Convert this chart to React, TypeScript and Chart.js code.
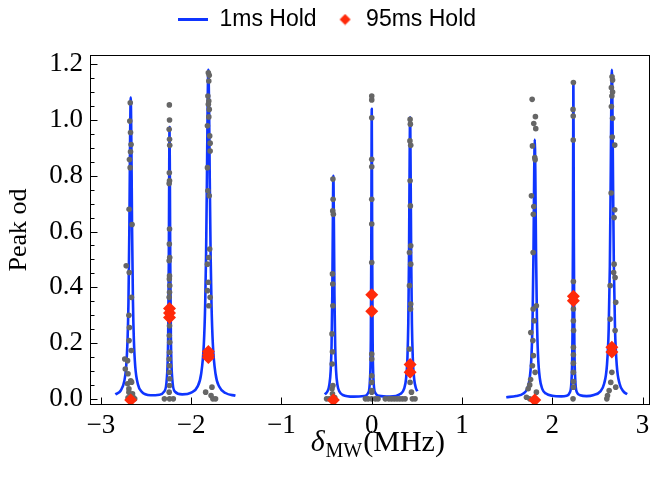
import React, { useEffect, useRef } from 'react';
import { Chart, registerables } from 'chart.js';

Chart.register(...registerables);

// ---- axis ticks ----
const X_TICKS = [-3, -2, -1, 0, 1, 2, 3];
const Y_TICKS = [0, 0.2, 0.4, 0.6, 0.8, 1.0, 1.2];

// ---- 1ms Hold fit curves ----
const FIT_LEFT_X = [-2.84, -2.78, -2.74, -2.72, -2.705, -2.695, -2.685, -2.678, -2.67, -2.662, -2.655, -2.645, -2.635, -2.62, -2.59, -2.55, -2.45, -2.35, -2.3, -2.27, -2.255, -2.248, -2.244, -2.24, -2.236, -2.232, -2.225, -2.21, -2.18, -2.1, -2.0, -1.93, -1.89, -1.86, -1.845, -1.835, -1.825, -1.818, -1.81, -1.802, -1.795, -1.785, -1.775, -1.76, -1.73, -1.69, -1.62, -1.51];
const FIT_LEFT_Y = [0.016, 0.030, 0.065, 0.117, 0.211, 0.346, 0.612, 0.889, 1.08, 0.889, 0.612, 0.346, 0.211, 0.117, 0.052, 0.026, 0.013, 0.015, 0.026, 0.073, 0.223, 0.494, 0.785, 0.975, 0.785, 0.494, 0.223, 0.073, 0.026, 0.016, 0.022, 0.044, 0.089, 0.196, 0.339, 0.52, 0.81, 1.047, 1.18, 1.047, 0.81, 0.52, 0.339, 0.196, 0.089, 0.044, 0.021, 0.011];

const FIT_MID_X = [-0.52, -0.49, -0.47, -0.455, -0.445, -0.437, -0.431, -0.425, -0.419, -0.413, -0.405, -0.395, -0.38, -0.36, -0.32, -0.2, -0.08, -0.04, -0.02, -0.01, -0.005, -0.0025, 0, 0.0025, 0.005, 0.01, 0.02, 0.04, 0.08, 0.2, 0.32, 0.36, 0.38, 0.395, 0.405, 0.413, 0.419, 0.425, 0.431, 0.437, 0.445, 0.455, 0.47, 0.49, 0.505];
const FIT_MID_Y = [0.016, 0.027, 0.050, 0.100, 0.191, 0.370, 0.622, 0.80, 0.622, 0.370, 0.191, 0.100, 0.050, 0.027, 0.014, 0.008, 0.010, 0.021, 0.066, 0.213, 0.525, 0.837, 1.04, 0.837, 0.525, 0.213, 0.066, 0.021, 0.011, 0.008, 0.018, 0.038, 0.072, 0.144, 0.272, 0.51, 0.813, 1.01, 0.813, 0.51, 0.272, 0.144, 0.072, 0.038, 0.027];

const FIT_RIGHT_X = [1.49, 1.6, 1.68, 1.72, 1.75, 1.77, 1.782, 1.792, 1.8, 1.806, 1.812, 1.82, 1.83, 1.842, 1.862, 1.89, 1.93, 2.0, 2.1, 2.16, 2.194, 2.214, 2.224, 2.229, 2.2315, 2.234, 2.2365, 2.239, 2.244, 2.254, 2.274, 2.31, 2.38, 2.46, 2.53, 2.575, 2.605, 2.625, 2.638, 2.648, 2.655, 2.66, 2.665, 2.672, 2.682, 2.695, 2.715, 2.745, 2.79, 2.83];
const FIT_RIGHT_Y = [0.006, 0.010, 0.019, 0.035, 0.074, 0.157, 0.290, 0.531, 0.819, 0.93, 0.819, 0.531, 0.290, 0.157, 0.074, 0.035, 0.019, 0.011, 0.009, 0.011, 0.023, 0.073, 0.233, 0.573, 0.914, 1.135, 0.914, 0.573, 0.233, 0.073, 0.023, 0.013, 0.010, 0.014, 0.026, 0.055, 0.118, 0.251, 0.477, 0.821, 1.099, 1.18, 1.099, 0.821, 0.477, 0.251, 0.118, 0.055, 0.026, 0.017];

// ---- measured points (gray) ----
const GRAY_LEFT: [number, number][] = [
  [-2.675, 1.062], [-2.68, 0.996], [-2.672, 0.955], [-2.666, 0.912], [-2.672, 0.886], [-2.684, 0.858], [-2.676, 0.829], [-2.688, 0.68], [-2.655, 0.625], [-2.72, 0.477], [-2.686, 0.453], [-2.662, 0.364], [-2.69, 0.30], [-2.684, 0.256], [-2.688, 0.209], [-2.664, 0.173], [-2.736, 0.143], [-2.705, 0.137], [-2.73, 0.107], [-2.70, 0.09], [-2.67, 0.065], [-2.66, 0.06], [-2.705, 0.054], [-2.69, 0.036], [-2.69, 0.024], [-2.65, 0.018], [-2.64, 0.005], [-2.626, 0.0], [-2.70, 0.004],
  [-2.242, 1.054], [-2.24, 1.0], [-2.244, 0.967], [-2.24, 0.931], [-2.238, 0.909], [-2.242, 0.811], [-2.24, 0.782], [-2.244, 0.772], [-2.24, 0.609], [-2.242, 0.555], [-2.238, 0.507], [-2.244, 0.495], [-2.24, 0.441], [-2.242, 0.43], [-2.238, 0.406], [-2.24, 0.382], [-2.244, 0.364], [-2.24, 0.262], [-2.242, 0.227], [-2.238, 0.203], [-2.24, 0.167], [-2.244, 0.143], [-2.24, 0.119], [-2.242, 0.095], [-2.238, 0.072], [-2.24, 0.048], [-2.244, 0.024], [-2.24, 0.0], [-2.297, 0.0], [-2.198, 0.0],
  [-1.81, 1.169], [-1.8, 1.16], [-1.805, 1.14], [-1.815, 1.086], [-1.805, 1.068], [-1.81, 1.056], [-1.8, 1.038], [-1.805, 1.011], [-1.82, 0.979], [-1.795, 0.943], [-1.79, 0.917], [-1.79, 0.889], [-1.82, 0.829], [-1.815, 0.746], [-1.8, 0.728], [-1.795, 0.537], [-1.805, 0.507], [-1.82, 0.483], [-1.81, 0.418], [-1.82, 0.388], [-1.79, 0.364], [-1.805, 0.334], [-1.84, 0.024], [-1.77, 0.042], [-1.78, 0.012], [-1.76, 0.0], [-1.73, 0.0],
];
const GRAY_MID: [number, number][] = [
  [-0.43, 0.788], [-0.428, 0.716], [-0.432, 0.674], [-0.425, 0.662], [-0.435, 0.448], [-0.432, 0.412], [-0.43, 0.334], [-0.44, 0.233], [-0.435, 0.169], [-0.438, 0.125], [-0.43, 0.048], [-0.44, 0.036], [-0.435, 0.018], [-0.5, 0.0], [-0.47, 0.0], [-0.41, 0.005],
  [0, 1.086], [0, 1.072], [0, 1.008], [0, 0.859], [0, 0.832], [0, 0.716], [0, 0.627], [0, 0.489], [0, 0.161], [0, 0.143], [0, 0.083], [0, 0.059], [0, 0.03], [0, 0.024], [-0.07, 0.0], [-0.04, 0.0], [0.0, 0.0], [0.04, 0.0], [0.07, 0.0],
  [0.15, 0.0], [0.19, 0.0], [0.22, 0.0], [0.25, 0.0], [0.28, 0.0], [0.31, 0.0], [0.34, 0.0], [0.37, 0.0], [0.48, 0.0],
  [0.425, 1.002], [0.428, 0.985], [0.423, 0.925], [0.432, 0.909], [0.425, 0.782], [0.428, 0.692], [0.432, 0.549], [0.418, 0.525], [0.432, 0.483], [0.418, 0.406], [0.432, 0.34], [0.43, 0.322], [0.418, 0.179], [0.425, 0.059], [0.44, 0.024], [0.45, 0.0],
];
const GRAY_RIGHT: [number, number][] = [
  [1.777, 1.074], [1.813, 1.012], [1.795, 0.987], [1.817, 0.969], [1.78, 0.907], [1.806, 0.865], [1.81, 0.857], [1.769, 0.728], [1.795, 0.69], [1.79, 0.662], [1.788, 0.525], [1.824, 0.334], [1.788, 0.322], [1.8, 0.28], [1.762, 0.238], [1.785, 0.209], [1.79, 0.155], [1.78, 0.119], [1.81, 0.095], [1.76, 0.069], [1.75, 0.05], [1.733, 0.036], [1.824, 0.024], [1.714, 0.006], [1.75, 0.0],
  [2.234, 1.134], [2.23, 1.038], [2.232, 1.014], [2.232, 0.928], [2.234, 0.421], [2.234, 0.322], [2.234, 0.28], [2.236, 0.245], [2.234, 0.185], [2.234, 0.158], [2.234, 0.128], [2.234, 0.095], [2.234, 0.062], [2.234, 0.042], [2.23, 0.0],
  [2.662, 1.155], [2.668, 1.143], [2.655, 1.116], [2.668, 1.10], [2.66, 1.086], [2.655, 1.048], [2.668, 1.006], [2.665, 0.939], [2.692, 0.91], [2.652, 0.738], [2.692, 0.678], [2.685, 0.65], [2.685, 0.483], [2.68, 0.453], [2.696, 0.435], [2.641, 0.406], [2.703, 0.346], [2.641, 0.286], [2.696, 0.245], [2.66, 0.095], [2.648, 0.059], [2.703, 0.042], [2.63, 0.03], [2.612, 0.012], [2.604, 0.0],
];

// ---- 95ms Hold points ----
const HOLD95_X = [-2.67, -2.24, -2.24, -2.24, -1.81, -1.81, -1.81, -0.425, 0, 0, 0.425, 0.425, 1.806, 2.234, 2.234, 2.66, 2.66];
const HOLD95_Y = [-0.004, 0.324, 0.308, 0.292, 0.17, 0.158, 0.148, -0.004, 0.373, 0.314, 0.123, 0.095, -0.004, 0.368, 0.352, 0.185, 0.168];

const BLUE = '#0f35ff';
const RED = '#ff2a0a';
const GRAY = '#666666';
const SERIF = '"Liberation Serif", "Times New Roman", serif';
const SANS = '"Liberation Sans", Arial, sans-serif';

const toPts = (xs: number[], ys: number[]) => xs.map((x, i) => ({ x, y: ys[i] }));

const framePlugin = {
  id: 'frameTicks',
  afterDraw(chart: any) {
    const { ctx, chartArea: a, scales } = chart;
    const L = Math.round(a.left) + 0.5;
    const T = Math.round(a.top) + 0.5;
    const R = Math.round(a.right) - 0.5;
    const B = Math.round(a.bottom) - 0.5;
    ctx.save();
    ctx.strokeStyle = '#000';
    ctx.lineWidth = 1;
    ctx.strokeRect(L, T, R - L, B - T);
    ctx.beginPath();
    const ys = scales.y;
    for (let i = 0; i <= 24; i++) {
      const v = i * 0.05;
      const py = Math.round(ys.getPixelForValue(v)) + 0.5;
      const len = i % 4 === 0 ? 7 : 4;
      ctx.moveTo(L, py);
      ctx.lineTo(L + len, py);
    }
    const xs = scales.x;
    X_TICKS.forEach((v) => {
      const px = Math.round(xs.getPixelForValue(v)) + 0.5;
      ctx.moveTo(px, B);
      ctx.lineTo(px, B - 7);
    });
    ctx.stroke();
    ctx.restore();
  },
};

const xTitlePlugin = {
  id: 'xTitle',
  afterDraw(chart: any) {
    const { ctx, chartArea: a } = chart;
    ctx.save();
    ctx.fillStyle = '#000';
    ctx.textBaseline = 'alphabetic';
    ctx.textAlign = 'left';
    const f1 = `italic 30px ${SERIF}`;
    const f2 = `20px ${SERIF}`;
    const f3 = `30px ${SERIF}`;
    ctx.font = f1; const w1 = ctx.measureText('δ').width;
    ctx.font = f2; const w2 = ctx.measureText('MW').width;
    ctx.font = f3; const w3 = ctx.measureText('(MHz)').width;
    const total = w1 + 1 + w2 + 1 + w3;
    let x = (a.left + a.right) / 2 - total / 2 + 8;
    const base = 451;
    ctx.font = f1; ctx.fillText('δ', x, base); x += w1 + 1;
    ctx.font = f2; ctx.fillText('MW', x, base + 6); x += w2 + 1;
    ctx.font = f3; ctx.fillText('(MHz)', x, base);
    ctx.restore();
  },
};

export default function App() {
  const ref = useRef<HTMLCanvasElement>(null);

  useEffect(() => {
    const canvas = ref.current;
    if (!canvas) return;

    const lineImg = document.createElement('canvas');
    lineImg.width = 30; lineImg.height = 3;
    const lc = lineImg.getContext('2d')!;
    lc.fillStyle = BLUE; lc.fillRect(0, 0, 30, 3);

    const dImg = document.createElement('canvas');
    dImg.width = 30; dImg.height = 12;
    const dc = dImg.getContext('2d')!;
    dc.fillStyle = RED;
    dc.beginPath();
    dc.moveTo(20.5, 0.5); dc.lineTo(26, 6); dc.lineTo(20.5, 11.5); dc.lineTo(15, 6); dc.closePath();
    dc.fill();

    const grayData = [...GRAY_LEFT, ...GRAY_MID, ...GRAY_RIGHT].map(([x, y]) => ({ x, y }));
    const lineDs = (xs: number[], ys: number[], label: string) => ({
      type: 'line' as const,
      label,
      data: toPts(xs, ys),
      showLine: true,
      pointRadius: 0,
      borderColor: BLUE,
      backgroundColor: BLUE,
      borderWidth: 2.6,
      borderJoinStyle: 'round' as const,
      cubicInterpolationMode: 'monotone' as const,
      fill: false,
      clip: 0,
    });

    const chart = new Chart(canvas, {
      type: 'scatter',
      data: {
        datasets: [
          {
            label: '95ms Hold',
            data: toPts(HOLD95_X, HOLD95_Y),
            pointStyle: 'rectRot',
            pointRadius: 6.5,
            backgroundColor: RED,
            borderColor: RED,
            borderWidth: 0,
            clip: 0,
          } as any,
          {
            label: 'data',
            data: grayData,
            pointRadius: 2.8,
            backgroundColor: GRAY,
            borderColor: GRAY,
            borderWidth: 0,
            clip: 0,
          } as any,
          lineDs(FIT_LEFT_X, FIT_LEFT_Y, '1ms Hold') as any,
          lineDs(FIT_MID_X, FIT_MID_Y, '') as any,
          lineDs(FIT_RIGHT_X, FIT_RIGHT_Y, '') as any,
        ],
      },
      options: {
        responsive: false,
        animation: false,
        devicePixelRatio: 1,
        layout: { padding: { top: 0, right: 2, left: 0, bottom: 0 } },
        plugins: {
          tooltip: { enabled: false },
          legend: {
            display: true,
            position: 'top',
            labels: {
              usePointStyle: true,
              pointStyleWidth: 30,
              boxHeight: 12,
              padding: 8,
              color: '#000',
              font: { family: SANS, size: 23 },
              generateLabels: () => [
                { text: '1ms Hold', pointStyle: lineImg, fillStyle: BLUE, strokeStyle: BLUE, lineWidth: 0, hidden: false, datasetIndex: 2, fontColor: '#000' } as any,
                { text: '95ms Hold', pointStyle: dImg, fillStyle: RED, strokeStyle: RED, lineWidth: 0, hidden: false, datasetIndex: 0, fontColor: '#000' } as any,
              ],
            },
          },
          title: {
            display: true,
            text: '',
            weight: 500,
            padding: 0,
            font: { size: 10, lineHeight: 1.4 },
          } as any,
        },
        scales: {
          x: {
            type: 'linear',
            min: -3.121,
            max: 3.077,
            grid: { display: false, drawTicks: false },
            border: { display: false },
            afterBuildTicks: (s: any) => { s.ticks = X_TICKS.map((v) => ({ value: v })); },
            afterFit: (s: any) => { s.height = 80; },
            ticks: {
              autoSkip: false,
              maxRotation: 0,
              padding: 5,
              color: '#000',
              font: { family: SERIF, size: 27 },
              callback: (v: any) => (Number(v) < 0 ? '\u2212' + Math.abs(Number(v)) : String(v)),
            },
          },
          y: {
            type: 'linear',
            min: -0.022,
            max: 1.233,
            grid: { display: false, drawTicks: false },
            border: { display: false },
            afterBuildTicks: (s: any) => { s.ticks = Y_TICKS.map((v) => ({ value: v })); },
            afterFit: (s: any) => { s.width = 90; },
            title: {
              display: true,
              text: 'Peak od',
              color: '#000',
              padding: { top: 4, bottom: 2 },
              font: { family: SERIF, size: 26 },
            },
            ticks: {
              autoSkip: false,
              padding: 7,
              color: '#000',
              font: { family: SERIF, size: 27 },
              callback: (v: any) => Number(v).toFixed(1),
            },
          },
        },
      },
      plugins: [framePlugin, xTitlePlugin],
    });

    return () => chart.destroy();
  }, []);

  return (
    <div style={{ position: 'absolute', left: 0, top: 0, width: 656, height: 485, background: '#fff' }}>
      <canvas ref={ref} width={656} height={485} style={{ display: 'block' }} />
    </div>
  );
}
